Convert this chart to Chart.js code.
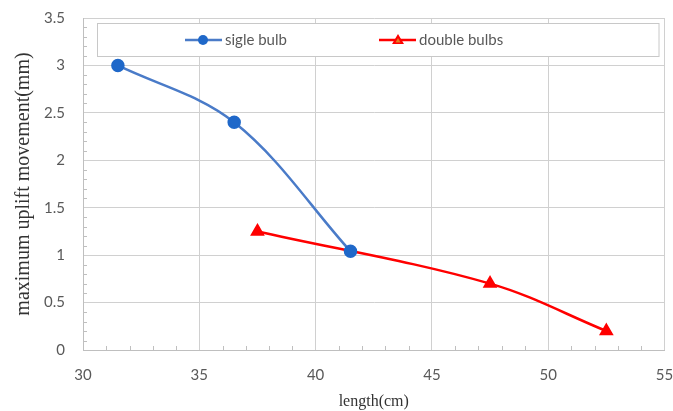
<!DOCTYPE html>
<html>
<head>
<meta charset="utf-8">
<script src="https://cdn.jsdelivr.net/npm/chart.js@4"></script>
<style>
    html, body { margin: 0; padding: 0; background: #fff; }
    #wrap { width: 673px; height: 411px; position: relative; }
</style>
</head>
<body>
<div id="wrap"><canvas id="myChart" width="673" height="411"></canvas></div>
<script>
// datos
const singleLength = [31.5, 36.5, 41.5];
const singleUplift = [3.0, 2.4, 1.04];
const doubleLength = [37.5, 47.5, 52.5];
const doubleUplift = [1.25, 0.7, 0.2];
const seriesNames = ['sigle bulb', 'double bulbs'];
const xTickValues = [30, 35, 40, 45, 50, 55];
const yTickValues = [0, 0.5, 1, 1.5, 2, 2.5, 3, 3.5];

const blueLine = '#4a7bc8';
const blueMarker = '#1f68c9';
const red = '#ff0000';
const gridColor = '#d0d0d0';
const tickFont = { family: 'Lato, "Open Sans", sans-serif', size: 15 };

function toPoints(xs, ys) {
    return xs.map((x, i) => ({ x: x, y: ys[i] }));
}

// ticks menores hacia dentro (como Excel)
const minorTicks = {
    id: 'minorTicks',
    afterDraw(chart) {
        const ctx = chart.ctx;
        const xs = chart.scales.x, ys = chart.scales.y;
        const a = chart.chartArea;
        ctx.save();
        ctx.strokeStyle = '#bfbfbf';
        ctx.lineWidth = 1;
        ctx.beginPath();
        for (let v = 31; v < 55; v++) {
            if (v % 5 === 0) continue;
            const px = Math.round(xs.getPixelForValue(v)) + 0.5;
            ctx.moveTo(px, a.bottom);
            ctx.lineTo(px, a.bottom - 4);
        }
        for (let i = 1; i < 35; i++) {
            if (i % 5 === 0) continue;
            const py = Math.round(ys.getPixelForValue(i / 10)) + 0.5;
            ctx.moveTo(a.left, py);
            ctx.lineTo(a.left + 4, py);
        }
        ctx.stroke();
        ctx.restore();
    }
};

// leyenda dentro del area del grafico
const boxLegend = {
    id: 'boxLegend',
    afterDraw(chart) {
        const ctx = chart.ctx;
        const a = chart.chartArea;
        ctx.save();
        ctx.fillStyle = '#fff';
        ctx.fillRect(a.left + 14, a.top + 5, a.right - a.left - 19, 33);
        ctx.strokeStyle = '#c8c8c8';
        ctx.lineWidth = 1;
        ctx.strokeRect(a.left + 14.5, a.top + 5.5, a.right - a.left - 20, 33);
        const cy = a.top + 22;
        ctx.font = '15px Lato, "Open Sans", sans-serif';
        ctx.textBaseline = 'middle';
        ctx.fillStyle = '#595959';
        // serie 1
        ctx.strokeStyle = blueLine;
        ctx.lineWidth = 2.5;
        ctx.beginPath(); ctx.moveTo(185, cy); ctx.lineTo(222, cy); ctx.stroke();
        ctx.fillStyle = blueMarker;
        ctx.beginPath(); ctx.arc(203, cy, 5, 0, Math.PI * 2); ctx.fill();
        ctx.fillStyle = '#595959';
        ctx.fillText(seriesNames[0], 225, cy);
        // serie 2
        ctx.strokeStyle = red;
        ctx.beginPath(); ctx.moveTo(379, cy); ctx.lineTo(416, cy); ctx.stroke();
        ctx.fillStyle = red;
        ctx.beginPath(); ctx.moveTo(398, cy - 6); ctx.lineTo(404, cy + 4); ctx.lineTo(392, cy + 4); ctx.closePath(); ctx.fill();
        ctx.fillStyle = '#e08020';
        ctx.beginPath(); ctx.moveTo(398, cy - 2); ctx.lineTo(400.5, cy + 2.5); ctx.lineTo(395.5, cy + 2.5); ctx.closePath(); ctx.fill();
        ctx.fillStyle = '#595959';
        ctx.fillText(seriesNames[1], 419, cy);
        ctx.restore();
    }
};

document.addEventListener('DOMContentLoaded', function () {
    const ctx = document.getElementById('myChart').getContext('2d');
    new Chart(ctx, {
        type: 'scatter',
        data: {
            datasets: [{
                label: seriesNames[0],
                data: toPoints(singleLength, singleUplift),
                showLine: true,
                borderColor: blueLine,
                borderWidth: 2.5,
                backgroundColor: blueMarker,
                pointBackgroundColor: blueMarker,
                pointBorderColor: blueMarker,
                pointRadius: 5.5,
                tension: 0.35
            }, {
                label: seriesNames[1],
                data: toPoints(doubleLength, doubleUplift),
                showLine: true,
                borderColor: red,
                borderWidth: 2.5,
                backgroundColor: red,
                pointBackgroundColor: red,
                pointBorderColor: red,
                pointStyle: 'triangle',
                pointRadius: 6,
                tension: 0.35
            }]
        },
        options: {
            responsive: false,
            animation: false,
            layout: { padding: { left: 0, right: 8, top: 18, bottom: 0 } },
            plugins: {
                legend: { display: false },
                tooltip: { enabled: false }
            },
            scales: {
                x: {
                    type: 'linear',
                    min: 30,
                    max: 55,
                    afterBuildTicks: (s) => { s.ticks = xTickValues.map(v => ({ value: v })); },
                    afterFit: (s) => { s.height = 61; s.paddingRight = 0; s.paddingLeft = 0; },
                    grid: { color: gridColor, drawTicks: false },
                    border: { color: '#bfbfbf' },
                    ticks: { padding: 16, color: '#595959', font: tickFont, maxRotation: 0 },
                    title: {
                        display: true,
                        text: 'length(cm)',
                        color: '#333',
                        font: { family: '"Liberation Serif", "DejaVu Serif", serif', size: 16 },
                        padding: { top: 0, bottom: 0 }
                    }
                },
                y: {
                    type: 'linear',
                    min: 0,
                    max: 3.5,
                    afterBuildTicks: (s) => { s.ticks = yTickValues.map(v => ({ value: v })); },
                    afterFit: (s) => { s.width = 83; s.paddingTop = 0; s.paddingBottom = 0; },
                    grid: { color: gridColor, drawTicks: false },
                    border: { color: '#bfbfbf' },
                    ticks: {
                        padding: 18,
                        color: '#595959',
                        font: tickFont,
                        callback: (v) => String(v)
                    },
                    title: {
                        display: true,
                        text: 'maximum uplift movement(mm)',
                        color: '#333',
                        font: { family: '"Liberation Serif", "DejaVu Serif", serif', size: 20 },
                        padding: { top: 12, bottom: 0 }
                    }
                }
            }
        },
        plugins: [minorTicks, boxLegend]
    });
});
</script>
</body>
</html>
